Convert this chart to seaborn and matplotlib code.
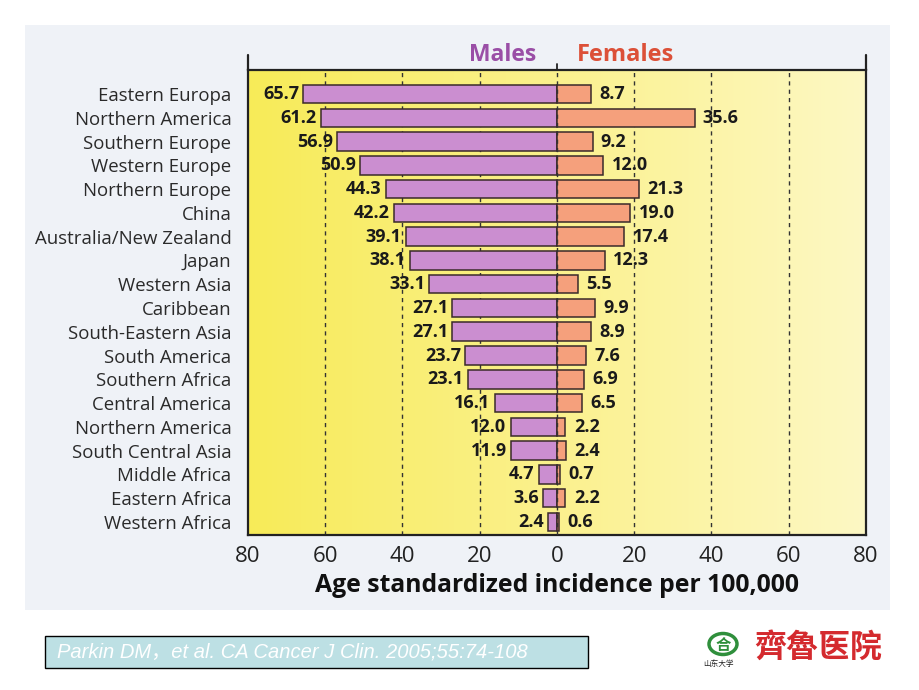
import numpy as np
import pandas as pd
import matplotlib
matplotlib.use("Agg")
import matplotlib.pyplot as plt
import seaborn as sns
from matplotlib.colors import LinearSegmentedColormap
from matplotlib.patches import Rectangle, Circle

# Data
regions = ["Eastern Europa", "Northern America", "Southern Europe", "Western Europe",
           "Northern Europe", "China", "Australia/New Zealand", "Japan", "Western Asia",
           "Caribbean", "South-Eastern Asia", "South America", "Southern Africa",
           "Central America", "Northern America", "South Central Asia", "Middle Africa",
           "Eastern Africa", "Western Africa"]
males = [65.7, 61.2, 56.9, 50.9, 44.3, 42.2, 39.1, 38.1, 33.1, 27.1, 27.1, 23.7, 23.1,
         16.1, 12.0, 11.9, 4.7, 3.6, 2.4]
females = [8.7, 35.6, 9.2, 12.0, 21.3, 19.0, 17.4, 12.3, 5.5, 9.9, 8.9, 7.6, 6.9,
           6.5, 2.2, 2.4, 0.7, 2.2, 0.6]
xticks = [-80, -60, -40, -20, 0, 20, 40, 60, 80]

df = pd.DataFrame({"pos": range(len(regions)), "region": regions,
                   "males": males, "females": females})
df["neg_males"] = -df["males"]

sns.set_style("white")
plt.rcParams['font.family'] = ['Open Sans', 'DejaVu Sans']

W, H = 920, 690
fig = plt.figure(figsize=(9.2, 6.9), dpi=100)
fig.patch.set_facecolor("white")

def fx(x):
    return x / W

def fy(y):
    return 1 - y / H

# scanned page background
fig.patches.append(Rectangle((fx(25), fy(610)), fx(865), 585 / H, transform=fig.transFigure,
                             facecolor="#eff2f7", edgecolor="none", zorder=-5))

ax = fig.add_axes([fx(248), fy(535), fx(866 - 248), (535 - 70) / H])

n = len(regions)
ytop, ybot = -1.01, n - 1 + 0.55

# yellow gradient background
cmap = LinearSegmentedColormap.from_list("yel", ["#f7eb58", "#fbf18e", "#fdf8c4"])
grad = np.linspace(0, 1, 256).reshape(1, -1)
ax.imshow(grad, extent=[-80, 80, ybot, ytop], aspect="auto", cmap=cmap, zorder=0)

sns.barplot(data=df, x="neg_males", y="pos", orient="h", color="#cb8ed0", saturation=1,
            width=0.78, edgecolor="#3a2a2a", linewidth=1.1, ax=ax, zorder=2)
sns.barplot(data=df, x="females", y="pos", orient="h", color="#f5a07c", saturation=1,
            width=0.78, edgecolor="#3a2a2a", linewidth=1.1, ax=ax, zorder=2)

# dashed grid lines
for gx in [-60, -40, -20, 20, 40, 60]:
    ax.axvline(gx, color="#333333", linestyle=(0, (3, 3)), linewidth=1.0, zorder=1)
ax.axvline(0, color="#333333", linestyle=(0, (3, 3)), linewidth=1.0, zorder=3)

# value labels
for i, (m, f) in enumerate(zip(males, females)):
    ax.annotate(f"{m:.1f}", (-m, i), xytext=(-3, 0), textcoords="offset points",
                ha="right", va="center", fontsize=13, fontweight="bold", color="#1a1a1a")
    ax.annotate(f"{f:.1f}", (f, i), xytext=(6, 0), textcoords="offset points",
                ha="left", va="center", fontsize=13, fontweight="bold", color="#1a1a1a")

ax.set_xlim(-80, 80)
ax.set_ylim(ybot, ytop)
ax.set_yticks(range(n))
ax.set_yticklabels(regions, fontsize=13.4, color="#2a2a2a")
ax.tick_params(axis="y", length=0, pad=12)
ax.set_xticks(xticks)
ax.set_xticklabels([str(abs(t)) for t in xticks], fontsize=16, color="#222222")
ax.tick_params(axis="x", direction="out", length=6, width=1.3, color="#222222", pad=2)
ax.set_xlabel("Age standardized incidence per 100,000", fontsize=17.8,
              fontweight="bold", color="#111111", labelpad=4)
ax.set_ylabel("")
for s in ax.spines.values():
    s.set_linewidth(1.6)
    s.set_color("#222222")

# extended spines above the frame and the center divider
for xx in [-80, 80]:
    ax.plot([xx, xx], [ytop, ytop - 0.65], color="#222222", lw=1.6, clip_on=False)
ax.plot([0, 0], [ytop, ytop - 0.25], color="#222222", lw=1.3, clip_on=False)

ax.text(-5.5, ytop - 0.62, "Males", ha="right", va="center", fontsize=16.5,
        fontweight="bold", color="#9a4ea6")
ax.text(5.2, ytop - 0.62, "Females", ha="left", va="center", fontsize=17,
        fontweight="bold", color="#dc5038")

# citation box
fig.patches.append(Rectangle((fx(45), fy(668)), fx(543), 32 / H, transform=fig.transFigure,
                             facecolor="#bde0e4", edgecolor="black", linewidth=1.0))
fig.text(fx(57), fy(652), "Parkin DM\uff0cet al. CA Cancer J Clin. 2005;55:74-108",
         family=["Liberation Sans", "Noto Sans CJK SC"], style="italic",
         fontsize=14.5, color="white", va="center", ha="left")

# hospital logo
fig.patches.append(Circle((fx(723), fy(644)), 14 / W, transform=fig.transFigure,
                          facecolor="white", edgecolor="#2f8f3c", linewidth=2.5))
fig.text(fx(723), fy(645), "合", family=["Noto Sans CJK SC"], fontsize=11,
         color="#2f8f3c", ha="center", va="center", fontweight="bold")
fig.text(fx(718), fy(664), "山东大学", family=["Noto Sans CJK SC"], fontsize=5.5,
         color="#222222", ha="center", va="center")
fig.text(fx(818), fy(648), "齊魯医院", family=["Noto Sans CJK TC", "Noto Sans CJK SC"],
         fontsize=23, color="#d42a2e", ha="center", va="center", fontweight="bold")

fig.savefig("out.png", dpi=100)
